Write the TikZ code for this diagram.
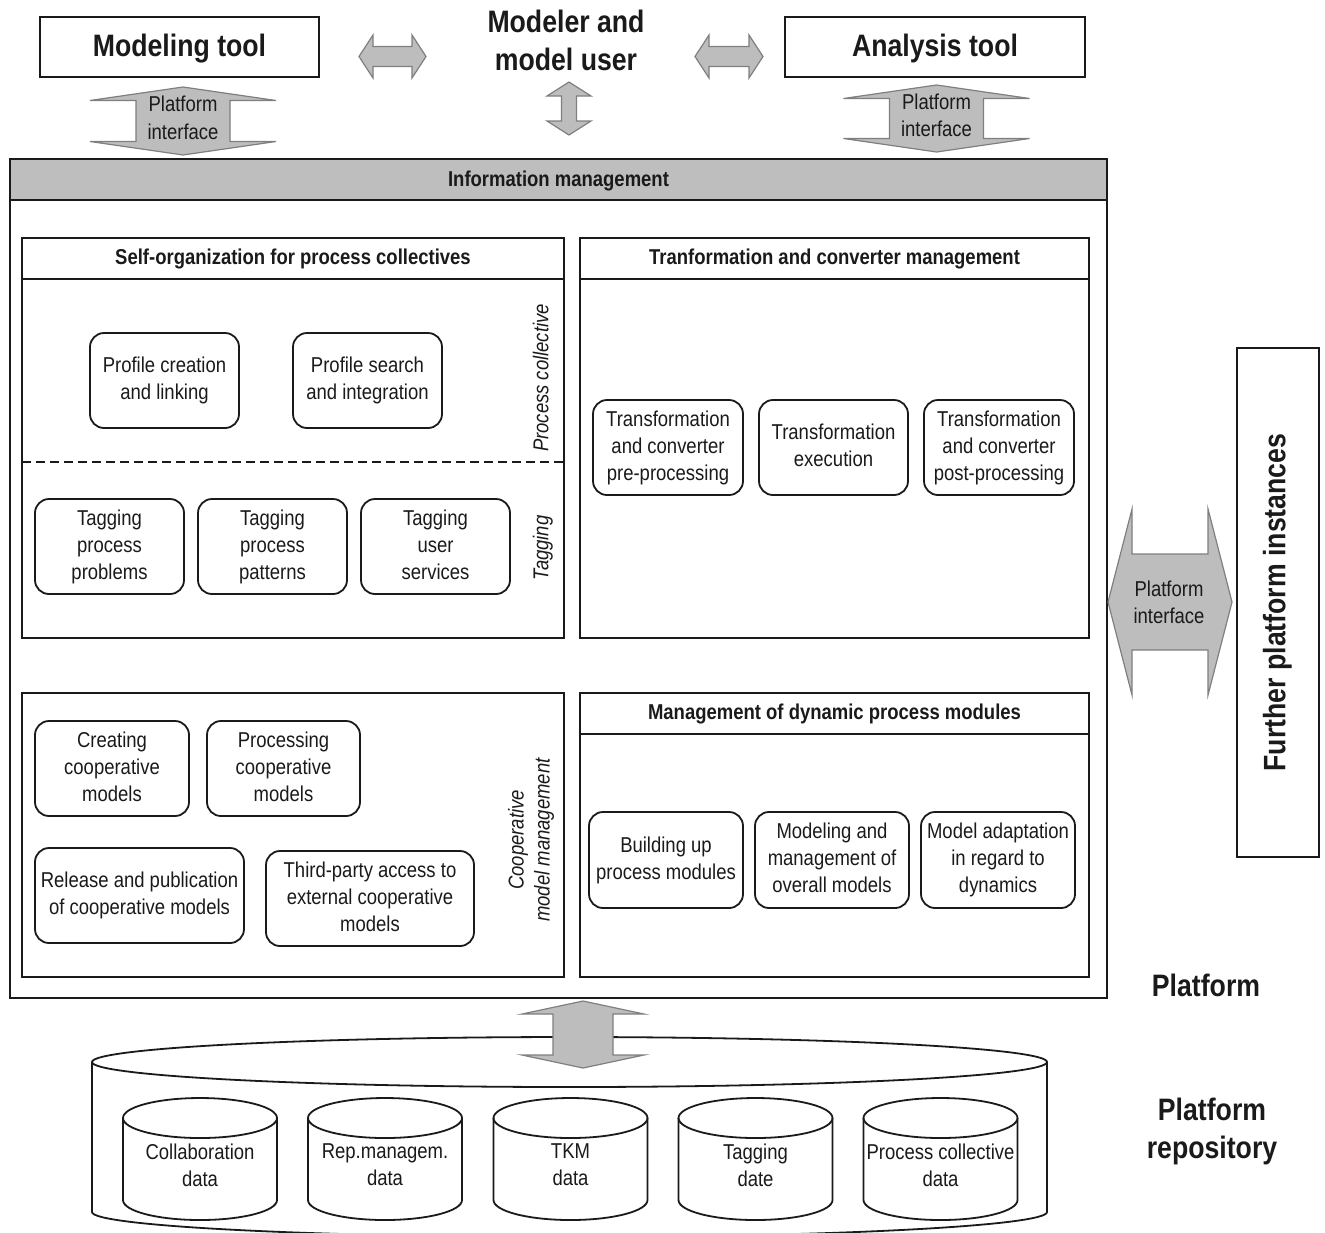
\documentclass[tikz,border=0pt]{standalone}
\usepackage{fontspec}
\setmainfont{Liberation Sans}[FakeStretch=0.86]
\definecolor{arrgray}{HTML}{BDBDBD}
\definecolor{arredge}{HTML}{7F7F7F}
\definecolor{hdrgray}{HTML}{BEBEBE}
\definecolor{ink}{HTML}{1A1A1A}
\newcommand\mystrut{\rule[-0.17\baselineskip]{0pt}{0.83\baselineskip}}
\newcommand\myvarrow[6]{% cx, ytop, ybot, head half width, shaft half width, head length
  \filldraw[blockarrow] (#1,#2) -- ({#1+#4},{#2+#6}) -- ({#1+#5},{#2+#6}) -- ({#1+#5},{#3-#6}) -- ({#1+#4},{#3-#6}) -- (#1,#3) -- ({#1-#4},{#3-#6}) -- ({#1-#5},{#3-#6}) -- ({#1-#5},{#2+#6}) -- ({#1-#4},{#2+#6}) -- cycle;}
\newcommand\myharrow[6]{% cy, xleft, xright, head half height, shaft half height, head length
  \filldraw[blockarrow] (#2,#1) -- ({#2+#6},{#1-#4}) -- ({#2+#6},{#1-#5}) -- ({#3-#6},{#1-#5}) -- ({#3-#6},{#1-#4}) -- (#3,#1) -- ({#3-#6},{#1+#4}) -- ({#3-#6},{#1+#5}) -- ({#2+#6},{#1+#5}) -- ({#2+#6},{#1+#4}) -- cycle;}
\newcommand\mycyl[5]{% cx, ytop centre, ybottom centre, rx, ry
  \filldraw[cylline, fill=white] ({#1-#4},#2) -- ({#1-#4},#3)
    .. controls ({#1-#4},{#3+0.5523*#5}) and ({#1-0.5523*#4},{#3+#5}) .. (#1,{#3+#5})
    .. controls ({#1+0.5523*#4},{#3+#5}) and ({#1+#4},{#3+0.5523*#5}) .. ({#1+#4},#3) -- ({#1+#4},#2);
  \draw[cylline] (#1,#2) ellipse[x radius=#4, y radius=#5];}
\begin{document}
\begin{tikzpicture}[x=0.5pt,y=-0.5pt,
  every node/.style={font=\fontsize{10.75pt}{13.5pt}\selectfont, text=ink,
    execute at begin node=\mystrut, execute at end node=\mystrut},
  sz/.style 2 args={minimum width=#1*0.5pt, minimum height=#2*0.5pt},
  rbox/.style={draw=ink, line width=0.9pt, rounded corners=7pt, align=center, inner sep=0pt},
  panel/.style={draw=ink, line width=1pt, inner sep=0pt},
  tbox/.style={draw=ink, line width=1pt, inner sep=0pt, font=\fontsize{15.5pt}{19.5pt}\selectfont\bfseries},
  hdr/.style={font=\fontsize{10.75pt}{13.5pt}\selectfont\bfseries},
  side/.style={rotate=90, align=center, font=\fontsize{10.75pt}{13pt}\selectfont\itshape},
  big/.style={align=center, font=\fontsize{15.5pt}{19pt}\selectfont\bfseries},
  blockarrow/.style={fill=arrgray, draw=arredge, line width=0.6pt, line join=miter},
  cylline/.style={draw=ink, line width=0.9pt}]
\path[use as bounding box] (0,0) rectangle (1325,1232);
\clip (0,0) rectangle (1325,1232);

% ---------- top row ----------
\node[tbox, sz={279}{60}] (modtool) at (179.5,47) {Modeling tool};
\node[tbox, sz={300}{60}] (anatool) at (935,47) {Analysis tool};
\node[big] (modeler) at (566,43) {Modeler and\\model user};

\myharrow{56.5}{359}{426}{21.5}{10}{14}
\myharrow{56.5}{695}{763}{21.5}{10}{14}
\myvarrow{569}{82}{135}{22}{7.5}{14}

\myvarrow{183}{87}{155}{93}{47}{13.5}
\node[align=center] (pil) at (183,120) {Platform\\interface};
\myvarrow{936.5}{85}{152}{93}{47}{13.5}
\node[align=center] (pir) at (936.5,118) {Platform\\interface};

% ---------- platform ----------
\node[panel, sz={1097}{839}] (platform) at (558.5,578.5) {};
\node[panel, fill=hdrgray, sz={1097}{41}, hdr] (infomgmt) at (558.5,179.5) {Information management};

% self-organization panel
\node[panel, sz={542}{400}] (selforg) at (293,438) {};
\draw[ink, line width=1pt] (22,279) -- (564,279);
\node[hdr] (selforgT) at (293,258) {Self-organization for process collectives};
\draw[ink, line width=1pt, dash pattern=on 4.5pt off 2.5pt] (22,462) -- (564,462);
\node[side] (pclabel) at (542,378) {Process collective};
\node[side] (taglabel) at (542,548) {Tagging};
\node[rbox, sz={149}{95}] (pc) at (164.5,380.5) {Profile creation\\and linking};
\node[rbox, sz={149}{95}] (ps) at (367.5,380.5) {Profile search\\and integration};
\node[rbox, sz={149}{95}] (t1) at (109.5,546.5) {Tagging\\process\\problems};
\node[rbox, sz={149}{95}] (t2) at (272.5,546.5) {Tagging\\process\\patterns};
\node[rbox, sz={149}{95}] (t3) at (435.5,546.5) {Tagging\\user\\services};

% transformation panel
\node[panel, sz={509}{400}] (trans) at (834.5,438) {};
\draw[ink, line width=1pt] (580,279) -- (1089,279);
\node[hdr] (transT) at (834.5,258) {Tranformation and converter management};
\node[rbox, sz={150}{95}] (tr1) at (668,447.5) {Transformation\\and converter\\pre-processing};
\node[rbox, sz={149}{95}] (tr2) at (833.5,447.5) {Transformation\\execution};
\node[rbox, sz={150}{95}] (tr3) at (999,447.5) {Transformation\\and converter\\post-processing};

% cooperative panel
\node[panel, sz={542}{284}] (coop) at (293,835) {};
\node[side] (cooplabel) at (531,840) {Cooperative\\model management};
\node[rbox, sz={154}{95}] (c1) at (112,768.5) {Creating\\cooperative\\models};
\node[rbox, sz={153}{95}] (c2) at (283.5,768.5) {Processing\\cooperative\\models};
\node[rbox, sz={209}{95}] (c3) at (139.5,895.5) {Release and publication\\of cooperative models};
\node[rbox, sz={208}{95}] (c4) at (370,898.5) {Third-party access to\\external cooperative\\models};

% dynamic modules panel
\node[panel, sz={509}{284}] (dyn) at (834.5,835) {};
\draw[ink, line width=1pt] (580,734) -- (1089,734);
\node[hdr] (dynT) at (834.5,713) {Management of dynamic process modules};
\node[rbox, sz={154}{96}] (d1) at (666,860) {Building up\\process modules};
\node[rbox, sz={154}{96}] (d2) at (832,860) {Modeling and\\management of\\overall models};
\node[rbox, sz={154}{96}] (d3) at (998,860) {Model adaptation\\in regard to\\dynamics};

% ---------- right side ----------
\myharrow{602}{1108}{1232}{93}{48}{24}
\node[align=center] (pibig) at (1169,604) {Platform\\interface};
\node[panel, sz={82}{509}] (further) at (1278,602.5) {};
\node[big, rotate=90] (furtherT) at (1276,602.5) {Further platform instances};
\node[big] (platformT) at (1206,987) {Platform};
\node[big] (repoT) at (1212,1131) {Platform\\repository};

% ---------- repository ----------
\mycyl{569.5}{1062}{1212}{477.5}{25}
\myvarrow{583}{1001}{1068}{61}{30}{13}
\mycyl{200}{1118}{1200}{77}{20}
\mycyl{385}{1118}{1200}{77}{20}
\mycyl{570.5}{1118}{1200}{77}{20}
\mycyl{755.5}{1118}{1200}{77}{20}
\mycyl{940.5}{1118}{1200}{77}{20}
\node[align=center] (db1) at (200,1167) {Collaboration\\data};
\node[align=center] (db2) at (385,1167) {Rep.managem.\\data};
\node[align=center] (db3) at (570.5,1167) {TKM\\data};
\node[align=center] (db4) at (755.5,1167) {Tagging\\date};
\node[align=center] (db5) at (940.5,1167) {Process collective\\data};
\end{tikzpicture}
\end{document}
